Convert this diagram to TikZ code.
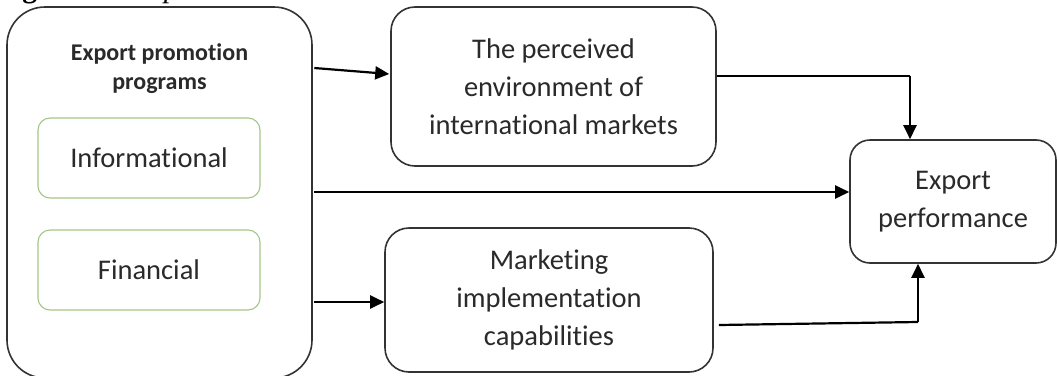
\documentclass[tikz,border=0pt]{standalone}
\usepackage{fontspec}
\setmainfont{Carlito}[Ligatures=NoCommon]
\newfontfamily\capfont{Liberation Serif}
\usetikzlibrary{arrows.meta,calc}

\definecolor{inkgray}{HTML}{2A2A2A}
\definecolor{framegray}{HTML}{333333}
\definecolor{subgreen}{HTML}{A3C585}

\begin{document}
\begin{tikzpicture}[x=1pt,y=-1pt,
  box/.style={draw=framegray, line width=1.6pt, fill=white, rounded corners=#1,
    inner sep=0pt, align=center, text=inkgray, font=\fontsize{28.5}{38}\selectfont},
  box/.default=24pt,
  subbox/.style={draw=subgreen, line width=1.1pt, rounded corners=12pt,
    minimum width=222pt, minimum height=80pt, inner sep=0pt,
    text=inkgray, font=\fontsize{28.5}{34}\selectfont},
  link/.style={draw=black, line width=2.2pt,
    -{Triangle[length=14pt,width=13pt]}},
  plain/.style={draw=black, line width=2.2pt}]

\useasboundingbox (0,0) rectangle (1057,375);
\clip (0,0) rectangle (1057,375);

% caption line, mostly above the page edge
\node[anchor=base west, inner sep=0pt, text=black]
  (caption) at (-4,-3) {\capfont\fontsize{29.5}{34}\selectfont\textbf{Figure 1:} \textit{Proposed Theoretical Model.}};

% outer programme box with its two kinds of programme
\node[box=38pt, minimum width=305pt, minimum height=371pt] (epp) at (159.5,192.5) {};
\node[align=center, text=inkgray, font=\bfseries\fontsize{24}{29}\selectfont, inner sep=0pt]
  (epptitle) at (159.5,69) {Export promotion\\programs};
\node[subbox] (info) at (149,158) {Informational};
\node[subbox] (fin) at (149,270) {Financial};

% mediating constructs and outcome
\node[box, minimum width=325pt, minimum height=159pt] (env) at (553.5,86.5)
  {The perceived\\environment of\\international markets};
\node[box, minimum width=328pt, minimum height=144pt] (mic) at (549,300)
  {Marketing\\implementation\\capabilities};
\node[box=20pt, minimum width=206pt, minimum height=123pt] (perf) at (953,201.5)
  {Export\\performance};

% connectors
\coordinate (a1) at ($(epp.east)+(1.5,-124.5)$);
\coordinate (a2) at ($(env.west)+(-1,-12.5)$);
\draw[link] (a1) -- (a2);

\coordinate (b1) at ($(epp.east)+(1.5,-0.5)$);
\draw[link] (b1) -- (b1 -| perf.west);

\coordinate (c1) at ($(epp.east)+(1.5,109.5)$);
\draw[link] (c1) -- (c1 -| mic.west);

\coordinate (d1) at ($(env.east)+(0,-10.5)$);
\coordinate (d2) at (910,76);
\draw[plain] (d1) -- (d2);
\draw[link] (d2) -- (d2 |- perf.north);

\coordinate (e1) at ($(mic.east)+(5,25)$);
\coordinate (e2) at (918,322);
\draw[plain] (e1) -- (e2);
\draw[link] (e2) -- (e2 |- perf.south);

\end{tikzpicture}
\end{document}
